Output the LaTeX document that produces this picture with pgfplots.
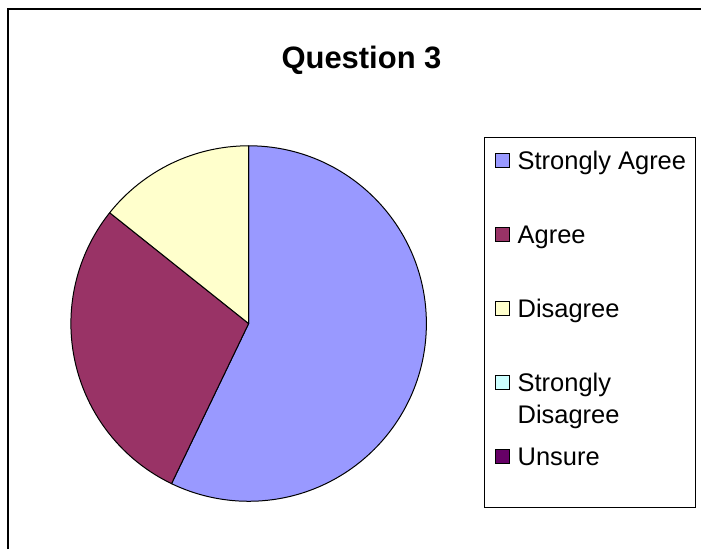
\documentclass[border=0pt]{standalone}
\usepackage{pgfplots}
\pgfplotsset{compat=1.18}
\usepackage{pgfplotstable}
\usepackage{fontspec}
\setmainfont{Liberation Sans}

\definecolor{sa}{HTML}{9999FF}
\definecolor{ag}{HTML}{993366}
\definecolor{di}{HTML}{FFFFCC}
\definecolor{sd}{HTML}{CCFFFF}
\definecolor{un}{HTML}{660066}

% answers to question 3
\pgfplotstableread[col sep=comma]{
label,value
Strongly Agree,4
Agree,2
Disagree,1
Strongly Disagree,0
Unsure,0
}\piedata

\pgfplotstablegetelem{0}{value}\of\piedata \let\va\pgfplotsretval
\pgfplotstablegetelem{1}{value}\of\piedata \let\vb\pgfplotsretval
\pgfplotstablegetelem{2}{value}\of\piedata \let\vc\pgfplotsretval
\pgfplotstablegetelem{3}{value}\of\piedata \let\vd\pgfplotsretval
\pgfplotstablegetelem{4}{value}\of\piedata \let\ve\pgfplotsretval
\pgfmathsetmacro\total{\va+\vb+\vc+\vd+\ve}
% slices run clockwise from 12 o'clock
\pgfmathsetmacro\aA{90}
\pgfmathsetmacro\aB{\aA-360*\va/\total}
\pgfmathsetmacro\aC{\aB-360*\vb/\total}
\pgfmathsetmacro\aD{\aC-360*\vc/\total}
\pgfmathsetmacro\aE{\aD-360*\vd/\total}
\pgfmathsetmacro\aF{\aE-360*\ve/\total}

\newcommand\slice[3]{%
  \fill[#3, draw=black, line width=0.5pt, line join=round]
    (axis cs:249,226) -- ++(#1:89pt) arc[start angle=#1, end angle=#2, radius=89pt] -- cycle;}
\newcommand\legkey[3]{%
  \draw[fill=#2, line width=0.5pt] (axis cs:496,#1-7) rectangle (axis cs:510.5,#1+7);
  \node[anchor=base west, inner sep=0pt, font=\fontsize{12.75}{15}\selectfont]
    at (axis cs:518,#1-9) {#3};}

\begin{document}
\begin{tikzpicture}
\begin{axis}[
  x=0.5pt, y=0.5pt,
  xmin=0, xmax=702, ymin=0, ymax=550,
  scale only axis, hide axis, clip=false,
]
\path (axis cs:0,0) rectangle (axis cs:702,550);
% outer chart frame (only top and left inside the crop)
\draw[line width=1pt] (axis cs:8.5,0) -- (axis cs:8.5,541) -- (axis cs:702,541);

\node[anchor=base, inner sep=0pt, font=\fontsize{15.5}{18}\selectfont\bfseries]
  at (axis cs:362,481) {Question 3};

\slice{\aA}{\aB}{sa}
\slice{\aB}{\aC}{ag}
\slice{\aC}{\aD}{di}

% legend
\draw[line width=0.5pt] (axis cs:485.5,42) rectangle (axis cs:696,412);
\legkey{389}{sa}{Strongly Agree}
\legkey{315}{ag}{Agree}
\legkey{241}{di}{Disagree}
\legkey{167}{sd}{Strongly}
\node[anchor=base west, inner sep=0pt, font=\fontsize{12.75}{15}\selectfont]
  at (axis cs:518,126) {Disagree};
\legkey{93}{un}{Unsure}
\end{axis}
\end{tikzpicture}
\end{document}
